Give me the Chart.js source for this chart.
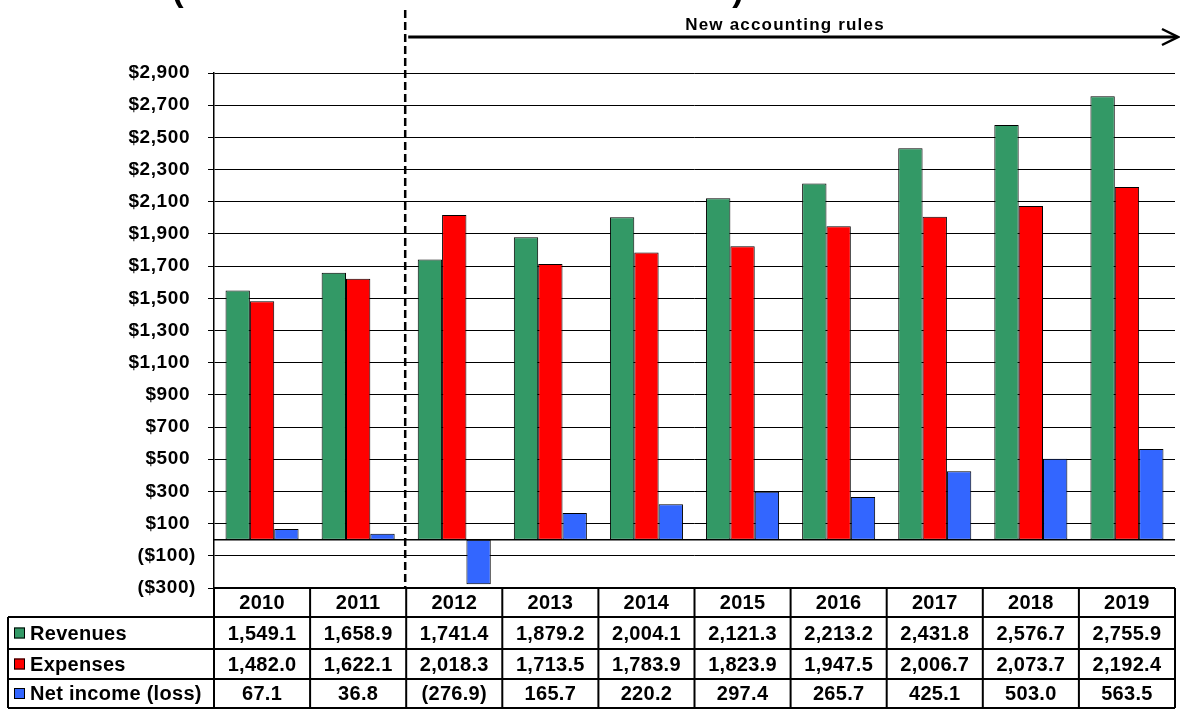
<!DOCTYPE html>
<html>
<head>
<meta charset="utf-8">
<script src="https://cdn.jsdelivr.net/npm/chart.js@4.4.1/dist/chart.umd.min.js"></script>
<style>
  body { margin: 0; background: #fff; }
  canvas { display: block; }
</style>
</head>
<body>
<canvas id="myChart" width="1180" height="709"></canvas>
<script>
// data
const years = ['2010', '2011', '2012', '2013', '2014', '2015', '2016', '2017', '2018', '2019'];
const revenues = [1549.1, 1658.9, 1741.4, 1879.2, 2004.1, 2121.3, 2213.2, 2431.8, 2576.7, 2755.9];
const expenses = [1482.0, 1622.1, 2018.3, 1713.5, 1783.9, 1823.9, 1947.5, 2006.7, 2073.7, 2192.4];
const netIncome = [67.1, 36.8, -276.9, 165.7, 220.2, 297.4, 265.7, 425.1, 503.0, 563.5];
const seriesNames = ['Revenues', 'Expenses', 'Net income (loss)'];
const seriesColors = ['rgb(51, 153, 102)', 'rgb(255, 0, 0)', 'rgb(51, 102, 255)'];
const yMin = -300;
const yMax = 2900;
const yStep = 200;
const noteText = 'New accounting rules';

const FONT = 'Arial, "Liberation Sans", sans-serif';

function dollarTick(v) {
  if (v < 0) return '($' + Math.abs(v).toLocaleString('en-US') + ')';
  return '$' + v.toLocaleString('en-US') + ' ';
}

function tableNum(v) {
  var s = Math.abs(v).toLocaleString('en-US', { minimumFractionDigits: 1, maximumFractionDigits: 1 });
  return v < 0 ? '(' + s + ')' : s;
}

// spacing so the text is as wide as in the picture
const spacingPlugin = {
  id: 'spacing',
  beforeDraw(chart) {
    chart.ctx.letterSpacing = '0.6px';
  }
};

// zero line, dashed divider, arrow and note
const annotPlugin = {
  id: 'annot',
  afterDatasetsDraw(chart) {
    var ctx = chart.ctx, area = chart.chartArea;
    var y0 = chart.scales.y.getPixelForValue(0);
    ctx.save();
    ctx.strokeStyle = '#000';
    ctx.lineWidth = 1.5;
    ctx.beginPath();
    ctx.moveTo(area.left, y0);
    ctx.lineTo(area.right, y0);
    ctx.stroke();
    ctx.restore();
  },
  afterDraw(chart) {
    var ctx = chart.ctx, area = chart.chartArea, x = chart.scales.x;
    var divX = x.getPixelForValue(1.5) - 1;
    ctx.save();
    // dashed line between 2011 and 2012
    ctx.strokeStyle = '#000';
    ctx.lineWidth = 2.5;
    ctx.setLineDash([8, 4]);
    ctx.beginPath();
    ctx.moveTo(divX, 10);
    ctx.lineTo(divX, area.bottom);
    ctx.stroke();
    ctx.setLineDash([]);

    // arrow
    var ay = 37, ax1 = divX + 3, ax2 = area.right + 3;
    ctx.lineWidth = 3;
    ctx.beginPath();
    ctx.moveTo(ax1, ay);
    ctx.lineTo(ax2 - 1, ay);
    ctx.stroke();
    ctx.lineWidth = 2.5;
    ctx.beginPath();
    ctx.moveTo(ax2 - 16, ay - 8);
    ctx.lineTo(ax2, ay);
    ctx.lineTo(ax2 - 16, ay + 8);
    ctx.stroke();

    ctx.fillStyle = '#000';
    ctx.letterSpacing = '1.2px';
    ctx.font = 'bold 17px ' + FONT;
    ctx.textAlign = 'center';
    ctx.textBaseline = 'middle';
    ctx.fillText(noteText, 785, 25);

    // bottom of the cut-off title
    ctx.letterSpacing = '0px';
    ctx.font = 'bold 34px ' + FONT;
    ctx.textBaseline = 'alphabetic';
    ctx.fillText('(', 178, 1);
    ctx.fillText(')', 738, 1);
    ctx.restore();
  }
};

// data table under the plot
const tablePlugin = {
  id: 'dataTable',
  afterDraw(chart) {
    var ctx = chart.ctx, area = chart.chartArea, x = chart.scales.x;
    var step = x.getPixelForValue(1) - x.getPixelForValue(0);
    var rows = [0, 29, 61, 91, 120].map(function (d) { return area.bottom + d; });
    var leftX = 8;
    var series = [revenues, expenses, netIncome];

    ctx.save();
    ctx.strokeStyle = '#000';
    ctx.lineWidth = 2;
    ctx.beginPath();
    ctx.moveTo(area.left, rows[0]);
    ctx.lineTo(area.right, rows[0]);
    for (var r = 1; r < rows.length; r++) {
      ctx.moveTo(leftX, rows[r]);
      ctx.lineTo(area.right, rows[r]);
    }
    for (var i = 0; i <= years.length; i++) {
      var ex = i === years.length ? area.right : area.left + i * step;
      ctx.moveTo(ex, rows[0]);
      ctx.lineTo(ex, rows[4]);
    }
    ctx.moveTo(leftX, rows[1]);
    ctx.lineTo(leftX, rows[4]);
    ctx.stroke();

    ctx.fillStyle = '#000';
    ctx.letterSpacing = '0.3px';
    ctx.font = 'bold 20px ' + FONT;
    ctx.textBaseline = 'middle';
    ctx.textAlign = 'center';
    years.forEach(function (yr, i) {
      var cx = x.getPixelForValue(i);
      ctx.fillText(yr, cx, (rows[0] + rows[1]) / 2 + 1);
      series.forEach(function (s, k) {
        ctx.fillText(tableNum(s[i]), cx, (rows[k + 1] + rows[k + 2]) / 2 + 1);
      });
    });

    ctx.textAlign = 'left';
    seriesNames.forEach(function (name, k) {
      var cy = (rows[k + 1] + rows[k + 2]) / 2;
      ctx.fillStyle = seriesColors[k];
      ctx.fillRect(14, cy - 5.5, 11, 11);
      ctx.lineWidth = 1;
      ctx.strokeRect(14.5, cy - 5, 10, 10);
      ctx.fillStyle = '#000';
      ctx.fillText(name, 30, cy + 1);
    });
    ctx.restore();
  }
};

var ctx1 = document.getElementById('myChart');

const datachart = {
  labels: years,
  datasets: seriesNames.map(function (name, k) {
    return {
      label: name,
      data: [revenues, expenses, netIncome][k],
      backgroundColor: seriesColors[k],
      borderColor: '#000',
      borderWidth: 1,
      borderSkipped: false,
      categoryPercentage: 0.76,
      barPercentage: 1.0
    };
  })
};

const config = {
  type: 'bar',
  data: datachart,
  options: {
    responsive: false,
    animation: false,
    devicePixelRatio: 1,
    layout: { padding: { top: 73, bottom: 121, left: 0, right: 5 } },
    plugins: {
      legend: { display: false },
      tooltip: { enabled: false },
      title: { display: false }
    },
    scales: {
      x: {
        display: false
      },
      y: {
        min: yMin,
        max: yMax,
        afterFit: function (scale) { scale.width = 214; },
        ticks: {
          stepSize: yStep,
          color: '#000',
          padding: 12,
          font: { family: FONT, size: 19, weight: 'bold' },
          callback: function (v) { return dollarTick(v); }
        },
        grid: {
          color: '#000',
          lineWidth: 1,
          tickLength: 6
        },
        border: { display: true, color: '#000', width: 1.5 }
      }
    }
  },
  plugins: [spacingPlugin, annotPlugin, tablePlugin]
};

const myChart = new Chart(ctx1, config);
</script>
</body>
</html>
